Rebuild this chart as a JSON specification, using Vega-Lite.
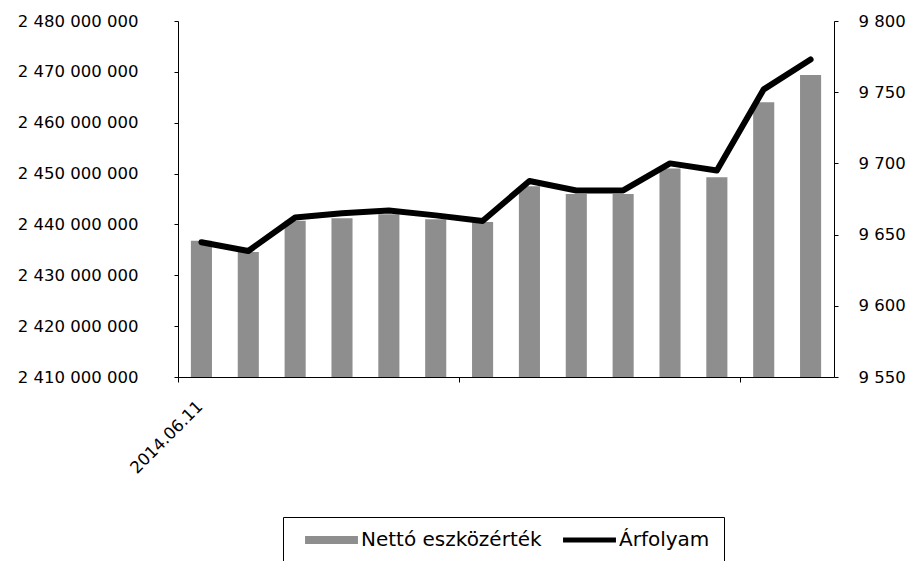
{
  "$schema": "https://vega.github.io/schema/vega-lite/v6.json",
  "width": 656,
  "height": 356,
  "autosize": {"type": "none"},
  "padding": {"left": 178, "top": 21, "right": 78, "bottom": 184},
  "background": "white",
  "config": {
    "locale": {"number": {"decimal": ",", "thousands": " ", "grouping": [3], "currency": ["", ""]}},
    "view": {"stroke": null},
    "font": "DejaVu Sans",
    "axis": {"grid": false, "domainColor": "black", "tickColor": "black", "labelColor": "black", "labelFont": "DejaVu Sans", "labelFontSize": 16.5, "title": null}
  },
  "data": {
    "values": [
      {"date": "2014.06.11", "nav": 2436800000, "price": 9644.6},
      {"date": "2014.06.12", "nav": 2434600000, "price": 9638.5},
      {"date": "2014.06.13", "nav": 2440700000, "price": 9662},
      {"date": "2014.06.16", "nav": 2441200000, "price": 9665},
      {"date": "2014.06.17", "nav": 2442000000, "price": 9667},
      {"date": "2014.06.18", "nav": 2441000000, "price": 9663.5},
      {"date": "2014.06.19", "nav": 2440500000, "price": 9659.6},
      {"date": "2014.06.20", "nav": 2447500000, "price": 9687.6},
      {"date": "2014.06.23", "nav": 2446000000, "price": 9681},
      {"date": "2014.06.24", "nav": 2446000000, "price": 9681},
      {"date": "2014.06.25", "nav": 2451000000, "price": 9700},
      {"date": "2014.06.26", "nav": 2449300000, "price": 9695},
      {"date": "2014.06.27", "nav": 2464000000, "price": 9752},
      {"date": "2014.06.30", "nav": 2469400000, "price": 9773}
    ]
  },
  "encoding": {
    "x": {
      "field": "date",
      "type": "ordinal",
      "sort": null,
      "scale": {"paddingInner": 0.55, "paddingOuter": 0.275},
      "axis": {
        "values": ["2014.06.11", "2014.06.19", "2014.06.27"],
        "bandPosition": 0.5,
        "tickOffset": -23.4,
        "labelExpr": "datum.value == '2014.06.11' ? datum.value : ''",
        "labelAngle": -45,
        "labelOffset": 16,
        "tickSize": 5,
        "labelPadding": 16,
        "labelFontSize": 16.5
      }
    }
  },
  "layer": [
    {
      "mark": {"type": "bar"},
      "encoding": {
        "y": {
          "field": "nav",
          "type": "quantitative",
          "scale": {"domain": [2410000000, 2480000000], "zero": false, "nice": false},
          "axis": {
            "orient": "left",
            "format": ",d",
            "values": [2410000000, 2420000000, 2430000000, 2440000000, 2450000000, 2460000000, 2470000000, 2480000000],
            "tickSize": 4,
            "labelPadding": 36
          }
        },
        "y2": {"datum": 2410000000},
        "color": {
          "datum": "Nettó eszközérték",
          "type": "nominal",
          "scale": {"domain": ["Nettó eszközérték", "Árfolyam"], "range": ["#8e8e8e", "#000000"]},
          "legend": {
            "orient": "none",
            "legendX": 105,
            "legendY": 496,
            "direction": "horizontal",
            "title": null,
            "strokeColor": "black",
            "fillColor": "white",
            "padding": 14,
            "clipHeight": 18,
            "labelFontSize": 20,
            "labelFont": "DejaVu Sans",
            "labelColor": "black",
            "labelLimit": 400,
            "labelOffset": 3,
            "columnPadding": 13,
            "symbolOffset": 8,
            "symbolSize": 2800,
            "symbolType": "M-1,-0.15H1V0.15H-1Z",
            "encode": {
              "symbols": {
                "update": {
                  "shape": {"signal": "datum.value === 'Árfolyam' ? 'M-1,-0.09H1V0.09H-1Z' : 'M-1,-0.15H1V0.15H-1Z'"},
                  "fill": {"signal": "datum.value === 'Árfolyam' ? '#000000' : '#8e8e8e'"},
                  "strokeWidth": {"value": 0},
                  "opacity": {"value": 1}
                }
              }
            }
          }
        }
      }
    },
    {
      "mark": {"type": "line", "strokeWidth": 6, "strokeJoin": "round", "strokeCap": "round"},
      "encoding": {
        "y": {
          "field": "price",
          "type": "quantitative",
          "scale": {"domain": [9550, 9800], "zero": false, "nice": false},
          "axis": {
            "orient": "right",
            "format": ",d",
            "values": [9550, 9600, 9650, 9700, 9750, 9800],
            "tickSize": 4,
            "labelPadding": 20
          }
        },
        "color": {"datum": "Árfolyam", "type": "nominal"}
      }
    }
  ],
  "resolve": {"scale": {"y": "independent"}}
}
